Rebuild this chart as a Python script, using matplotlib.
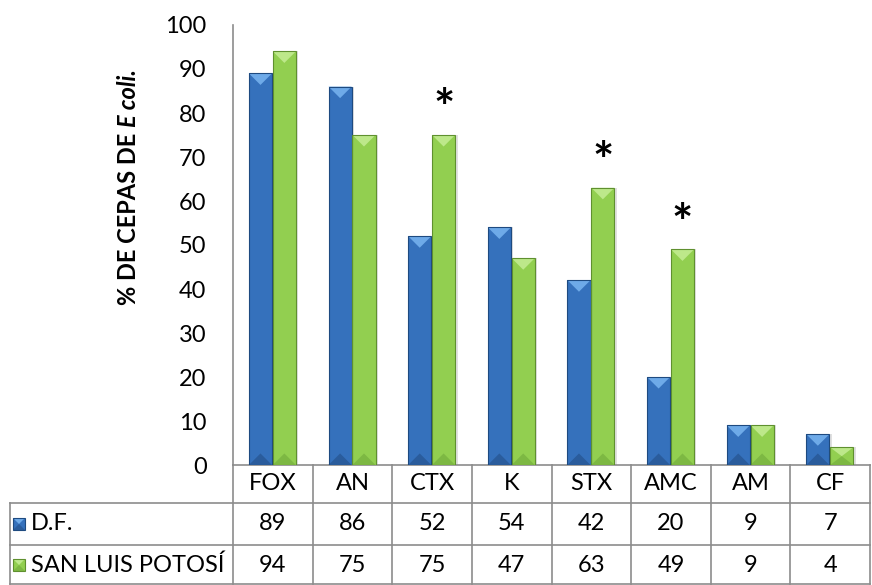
import matplotlib
matplotlib.use("Agg")
import matplotlib.pyplot as plt
from matplotlib.patches import Polygon, Rectangle
from matplotlib.transforms import blended_transform_factory

# Data
categories = ["FOX", "AN", "CTX", "K", "STX", "AMC", "AM", "CF"]
df_values = [89, 86, 52, 54, 42, 20, 9, 7]
slp_values = [94, 75, 75, 47, 63, 49, 9, 4]
series_names = ["D.F.", "SAN LUIS POTOSÍ"]
starred = ["CTX", "STX", "AMC"]
yticks = list(range(0, 101, 10))

plt.rcParams["font.family"] = ["Lato", "DejaVu Sans"]
FS = 17

W, H = 872, 585
fig = plt.figure(figsize=(W / 100, H / 100), dpi=100)
ax_l, ax_r, ax_t, ax_b = 233, 870, 25, 465
ax = fig.add_axes([ax_l / W, 1 - ax_b / H, (ax_r - ax_l) / W, (ax_b - ax_t) / H])
ax.set_xlim(-0.5, len(categories) - 0.5)
ax.set_ylim(0, 100)
ax.set_yticks(yticks)
ax.set_xticks([])
ax.tick_params(axis="y", length=0, pad=19, labelsize=FS)
for s in ("top", "right"):
    ax.spines[s].set_visible(False)
for s in ("left", "bottom"):
    ax.spines[s].set_color("#8c8c8c")
    ax.spines[s].set_linewidth(1.2)

styles = [
    dict(mid="#3571BC", light="#6EAAE8", dark="#2A5C9C", edge="#1E4A80"),
    dict(mid="#92CF50", light="#BDE88A", dark="#7DB843", edge="#5F902F"),
]

bar_w = 0.29
ax_w_px = ax_r - ax_l
ax_h_px = ax_b - ax_t
px_x = ax_w_px / len(categories)
px_y = ax_h_px / 100.0


def bevel_bar(axis, x0, y0, w, h, st, depth, transform, clip=True):
    d = min(depth, h / 2.0)
    kw = dict(transform=transform, clip_on=clip)
    axis.add_patch(Rectangle((x0, y0), w, h, facecolor=st["mid"], edgecolor="none",
                             zorder=3, **kw))
    axis.add_patch(Polygon([(x0, y0 + h), (x0 + w, y0 + h), (x0 + w / 2, y0 + h - d)],
                           closed=True, facecolor=st["light"], edgecolor="none",
                           zorder=4, **kw))
    axis.add_patch(Polygon([(x0, y0), (x0 + w, y0), (x0 + w / 2, y0 + d)], closed=True,
                           facecolor=st["dark"], edgecolor="none", zorder=4, **kw))
    axis.add_patch(Rectangle((x0, y0), w, h, facecolor="none", edgecolor=st["edge"],
                             linewidth=0.8, zorder=5, **kw))


bar_depth = 0.5 * bar_w * px_x / px_y
for i, (a, b) in enumerate(zip(df_values, slp_values)):
    for x0, v in ((i - bar_w - 0.01, a), (i, b)):
        ax.add_patch(Rectangle((x0 + 0.03, 0), bar_w, v, facecolor="#d9d9d9",
                               edgecolor="none", zorder=2, alpha=0.8))
    bevel_bar(ax, i - bar_w - 0.01, 0, bar_w, a, styles[0], bar_depth, ax.transData)
    bevel_bar(ax, i, 0, bar_w, b, styles[1], bar_depth, ax.transData)

for name in starred:
    i = categories.index(name)
    ax.text(i + bar_w / 2, slp_values[i] + 5.5, "*", ha="center", va="center",
            fontsize=36, fontweight="bold", color="black", zorder=6)


# Data table beneath the axis
def yf(py):
    return (ax_b - py) / ax_h_px


def xf(px):
    return (px - ax_l) / ax_w_px


blend = blended_transform_factory(ax.transData, ax.transAxes)
line_kw = dict(color="#8c8c8c", linewidth=1.2, clip_on=False, zorder=1)
row_lines = [503, 545, 584]
table_bottom = 584
for k in range(len(categories) + 1):
    ax.plot([k - 0.5, k - 0.5], [yf(ax_b), yf(table_bottom)], transform=blend, **line_kw)
for py in row_lines:
    ax.plot([xf(10), 1.0], [yf(py), yf(py)], transform=ax.transAxes, **line_kw)
ax.plot([xf(10), xf(10)], [yf(503), yf(table_bottom)], transform=ax.transAxes, **line_kw)

row_centers = [524, 565]
for i, c in enumerate(categories):
    ax.text(i, yf(484), c, transform=blend, ha="center", va="center", fontsize=FS,
            clip_on=False)
    for vals, py in zip((df_values, slp_values), row_centers):
        ax.text(i, yf(py), str(vals[i]), transform=blend, ha="center", va="center",
                fontsize=FS, clip_on=False)

key_px = 12
for name, st, py in zip(series_names, styles, row_centers):
    kw_ = key_px / ax_w_px
    kh = key_px / ax_h_px
    bevel_bar(ax, xf(13), yf(py + key_px / 2), kw_, kh, st, kh * 0.5, ax.transAxes,
              clip=False)
    ax.text(xf(31), yf(py), name, transform=ax.transAxes, ha="left", va="center",
            fontsize=FS, clip_on=False)

# Y-axis title: bold caps followed by the italic species name
ylab_x = 128 / W
t1 = fig.text(ylab_x, 1 - 305 / H, "% DE CEPAS DE", rotation=90, ha="center",
              va="bottom", fontsize=17, fontweight="bold")
fig.canvas.draw()
bb = t1.get_window_extent(renderer=fig.canvas.get_renderer())
fig.text(ylab_x, (bb.y1 + 6) / H, "E coli.", rotation=90, ha="center", va="bottom",
         fontsize=17, fontweight="bold", fontstyle="italic")

fig.savefig("out.png", dpi=100)
